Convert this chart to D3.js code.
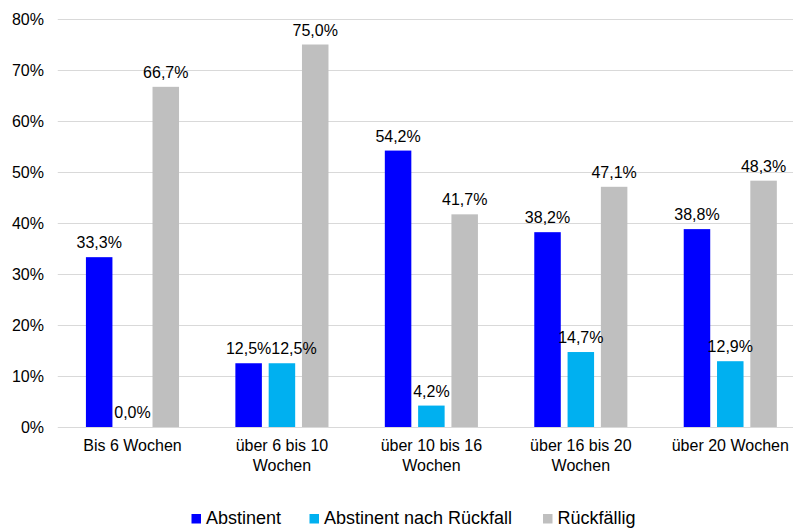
<!DOCTYPE html>
<html>
<head>
<meta charset="utf-8">
<script src="https://cdn.jsdelivr.net/npm/d3@7"></script>
<style>
  html, body { margin: 0; padding: 0; background: #fff; }
  svg { display: block; font-family: "Liberation Sans", Arial, Helvetica, sans-serif; }
</style>
</head>
<body>
<svg id="chart" width="793" height="529"></svg>
<script>
// Category labels (x axis)
const categories = ["Bis 6 Wochen", "über 6 bis 10 Wochen", "über 10 bis 16 Wochen", "über 16 bis 20 Wochen", "über 20 Wochen"];
// Series names
const seriesNames = ["Abstinent", "Abstinent nach Rückfall", "Rückfällig"];
// Values in percent per series
const abstinent = [33.3, 12.5, 54.2, 38.2, 38.8];
const abstinentNachRueckfall = [0.0, 12.5, 4.2, 14.7, 12.9];
const rueckfaellig = [66.7, 75.0, 41.7, 47.1, 48.3];
// Y axis ticks
const yTicks = [0, 10, 20, 30, 40, 50, 60, 70, 80];

const seriesValues = [abstinent, abstinentNachRueckfall, rueckfaellig];
const colors = ["#0000FF", "#00B0F0", "#BFBFBF"];

const svg = d3.select("#chart");

const x = d3.scaleBand().domain(categories).range([57.75, 805]).paddingInner(0).paddingOuter(0);
const xs = d3.scaleBand().domain(seriesNames).range([0, x.bandwidth()]).paddingInner(0.204).paddingOuter(0.846);
const y = d3.scaleLinear().domain([0, 80]).range([427, 19]);

const fmt = v => v.toFixed(1).replace(".", ",") + "%";

// Gridlines
svg.append("g").selectAll("line").data(yTicks).join("line")
  .attr("x1", 57.75).attr("x2", 793)
  .attr("y1", d => Math.round(y(d)) + 0.5).attr("y2", d => Math.round(y(d)) + 0.5)
  .attr("stroke", "#d9d9d9").attr("stroke-width", 1);

// Y axis
const yAxis = d3.axisLeft(y).tickValues(yTicks).tickFormat(d => d + "%").tickSize(0).tickPadding(0);
const gy = svg.append("g").attr("transform", "translate(44,0)").call(yAxis);
gy.select(".domain").remove();
gy.selectAll("text").attr("font-size", "16px").attr("fill", "#000").attr("font-family", null).attr("dy", "0.36em");

// Bars
const rows = [];
seriesNames.forEach((s, si) => {
  categories.forEach((c, ci) => rows.push({ s, si, c, ci, v: seriesValues[si][ci] }));
});

svg.append("g").selectAll("rect").data(rows).join("rect")
  .attr("x", d => x(d.c) + xs(d.s))
  .attr("y", d => y(d.v))
  .attr("width", xs.bandwidth())
  .attr("height", d => y(0) - y(d.v))
  .attr("fill", d => colors[d.si]);

// Data labels above each bar
const labels = svg.append("g").selectAll("text").data(rows).join("text")
  .attr("x", d => x(d.c) + xs(d.s) + xs.bandwidth() / 2)
  .attr("y", d => y(d.v) - 9)
  .attr("text-anchor", "middle")
  .attr("font-size", "16px")
  .attr("fill", "#000")
  .text(d => fmt(d.v));

// Nudge labels sideways when neighbours at a similar height would collide
const placed = [];
labels.each(function(d) {
  const node = this;
  const w = node.getComputedTextLength();
  let cx = +node.getAttribute("x");
  const ly = +node.getAttribute("y");
  placed.forEach(p => {
    if (p.ci === d.ci && Math.abs(p.y - ly) < 16) {
      const left = cx - w / 2;
      if (left < p.right && cx > p.cx) cx = p.right + w / 2;
    }
  });
  node.setAttribute("x", cx);
  placed.push({ ci: d.ci, y: ly, cx, right: cx + w / 2 });
});

// X axis labels, wrapped to the band width
const xAxis = d3.axisBottom(x).tickSize(0).tickPadding(0);
const gx = svg.append("g").attr("transform", "translate(0,427)").call(xAxis);
gx.select(".domain").remove();
gx.selectAll("text")
  .attr("font-size", "16px").attr("fill", "#000").attr("font-family", null)
  .attr("y", 0).attr("dy", null)
  .each(function(d) {
    const t = d3.select(this);
    const words = d.split(" ");
    const maxW = 125;
    t.text(null);
    let line = [];
    let lineNo = 0;
    let tspan = t.append("tspan").attr("x", 0).attr("y", 24);
    words.forEach(w => {
      line.push(w);
      tspan.text(line.join(" "));
      if (tspan.node().getComputedTextLength() > maxW && line.length > 1) {
        line.pop();
        tspan.text(line.join(" "));
        line = [w];
        lineNo++;
        tspan = t.append("tspan").attr("x", 0).attr("y", 24 + lineNo * 19.5).text(w);
      }
    });
  });

// Legend
const legendX = [191.5, 309.5, 543];
const lg = svg.append("g").selectAll("g").data(seriesNames).join("g")
  .attr("transform", (d, i) => `translate(${legendX[i]},514)`);
lg.append("rect").attr("width", 9.5).attr("height", 9.5).attr("fill", (d, i) => colors[i]);
lg.append("text").attr("x", 14.5).attr("y", 10.3).attr("font-size", "18px").attr("fill", "#000").text(d => d);
</script>
</body>
</html>
